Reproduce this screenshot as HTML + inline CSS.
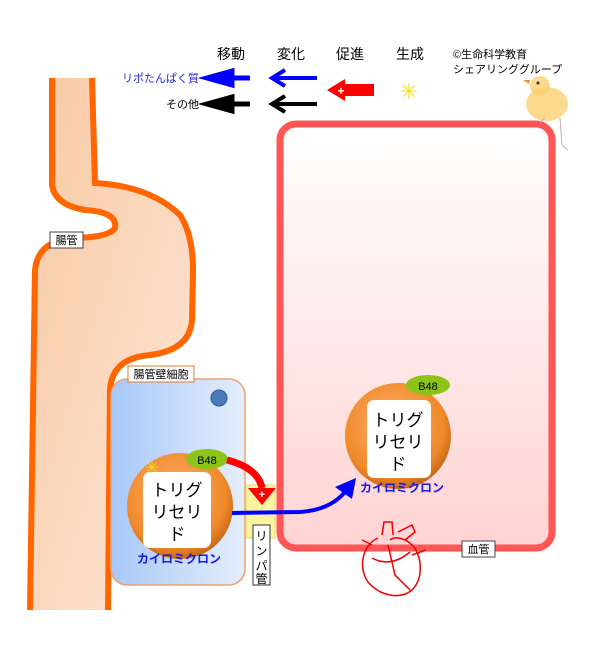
<!DOCTYPE html>
<html><head><meta charset="utf-8"><style>
body{margin:0;width:600px;height:660px;background:#fff;overflow:hidden;font-family:"Liberation Sans","Noto Sans CJK JP",sans-serif}
svg text{font-family:"Liberation Sans","Noto Sans CJK JP",sans-serif}
</style></head><body>
<svg width="600" height="660" viewBox="0 0 600 660">
<defs>
<linearGradient id="gut" x1="0" y1="0" x2="1" y2="1"><stop offset="0" stop-color="#f8c9a4"/><stop offset="1" stop-color="#fde6d6"/></linearGradient>
<linearGradient id="blood" x1="0" y1="0" x2="0" y2="1"><stop offset="0" stop-color="#fff"/><stop offset="1" stop-color="#ffd3d3"/></linearGradient>
<linearGradient id="cell" x1="0" y1="0" x2="1" y2="0"><stop offset="0" stop-color="#a8c8f8"/><stop offset="1" stop-color="#e4eefc"/></linearGradient>
<radialGradient id="ball" cx="0.45" cy="0.4" r="0.6"><stop offset="0" stop-color="#ffb070"/><stop offset="0.8" stop-color="#f08a2a"/><stop offset="1" stop-color="#c86a18"/></radialGradient>
</defs>
<!-- gut -->
<path d="M52,78 L52,185 Q55,205 85,210 Q118,212 115,228 Q110,237 75,238 Q38,240 35,270 L30,610 L108,610 L110,390 Q112,358 150,355 Q190,350 192,320 L193,270 Q193,235 180,215 Q150,186 95,183 L92,78 Z" fill="url(#gut)"/>
<path d="M52,78 L52,185 Q55,205 85,210 Q118,212 115,228 Q110,237 75,238 Q38,240 35,270 L30,610" fill="none" stroke="#ff6600" stroke-width="6"/>
<path d="M92,78 L95,183 Q150,186 180,215 Q193,235 193,270 L192,320 Q190,350 150,355 Q112,358 110,390 L108,610" fill="none" stroke="#ff6600" stroke-width="6"/>
<rect x="50" y="232" width="33" height="16" fill="#fff" stroke="#444"/>
<text x="66.5" y="244" font-size="11" text-anchor="middle">腸管</text>
<!-- blood vessel -->
<rect x="280" y="124" width="272" height="424" rx="16" fill="url(#blood)" stroke="#ff5555" stroke-width="7"/>
<rect x="462" y="541" width="33" height="16" fill="#fff" stroke="#444"/>
<text x="478.5" y="553" font-size="11" text-anchor="middle">血管</text>
<!-- cell -->
<rect x="111" y="379" width="134" height="206" rx="16" fill="url(#cell)" stroke="#f0a070" stroke-width="1.5"/>
<rect x="128" y="366" width="66" height="16" fill="#fff" stroke="#e07830"/>
<text x="161" y="378" font-size="11" text-anchor="middle">腸管壁細胞</text>
<circle cx="219" cy="398" r="8" fill="#4a7ab8" stroke="#2a5a98"/>
<!-- lymph -->
<rect x="246" y="485" width="29" height="53" fill="#fbf3a0" stroke="#e8d870"/>
<rect x="253" y="525" width="17" height="60" fill="#fff" stroke="#333"/>
<text font-size="12" text-anchor="middle"><tspan x="261.5" y="540">リ</tspan><tspan x="261.5" y="555">ン</tspan><tspan x="261.5" y="570">パ</tspan><tspan x="261.5" y="583">管</tspan></text>
<!-- chylomicron 1 -->
<circle cx="180" cy="506" r="53" fill="url(#ball)"/>
<rect x="143" y="472" width="68" height="76" rx="7" fill="#fff"/>
<text font-size="17" text-anchor="middle"><tspan x="177" y="496">トリグ</tspan><tspan x="177" y="518">リセリ</tspan><tspan x="177" y="540">ド</tspan></text>
<text x="179" y="563" font-size="12" fill="#1a1aee" text-anchor="middle" font-weight="bold">カイロミクロン</text>
<ellipse cx="207" cy="459" rx="21" ry="10" fill="#8cc418"/>
<text x="207" y="464" font-size="11" text-anchor="middle">B48</text>
<text x="152" y="473" font-size="16" fill="#f0e020" text-anchor="middle">✳</text>
<!-- chylomicron 2 -->
<circle cx="398" cy="436" r="53" fill="url(#ball)"/>
<rect x="367" y="400" width="64" height="78" rx="7" fill="#fff"/>
<text font-size="17" text-anchor="middle"><tspan x="398" y="426">トリグ</tspan><tspan x="398" y="448">リセリ</tspan><tspan x="398" y="470">ド</tspan></text>
<text x="402" y="492" font-size="12" fill="#1a1aee" text-anchor="middle" font-weight="bold">カイロミクロン</text>
<ellipse cx="428" cy="385" rx="22" ry="10" fill="#8cc418"/>
<text x="428" y="390" font-size="11" text-anchor="middle">B48</text>
<!-- red arrow -->
<path d="M227,460 Q258,468 262,488" fill="none" stroke="#ff0000" stroke-width="7"/>
<path d="M248,488 L276,488 L262,505 Z" fill="#ff0000"/>
<text x="262" y="498" font-size="11" fill="#fff" text-anchor="middle" font-weight="bold">+</text>
<!-- blue arrow -->
<path d="M232,513 L300,512 Q330,510 345,492" fill="none" stroke="#0000ff" stroke-width="4"/>
<path d="M335,487 L356,478 L352,499 Z" fill="#0000ff"/>
<!-- heart -->
<g fill="none" stroke="#e00" stroke-width="1.5">
<path d="M378,538 C362,545 358,568 368,582 C380,596 400,600 412,590 C424,578 422,555 412,545 C405,538 395,536 390,540"/>
<path d="M382,535 L384,522 L392,522 L393,535 M398,532 L412,525 L415,532 L405,540 M372,545 L362,540 M412,555 L426,550"/>
<path d="M388,545 L395,575 L410,590 M372,558 C385,565 398,562 410,552"/>
</g>
<!-- legend -->
<g font-size="14"><text x="231" y="59" text-anchor="middle">移動</text><text x="291" y="59" text-anchor="middle">変化</text><text x="350" y="59" text-anchor="middle">促進</text><text x="410" y="59" text-anchor="middle">生成</text></g>
<text x="453" y="58" font-size="11">©生命科学教育</text>
<text x="453" y="73" font-size="11">シェアリンググループ</text>
<text x="199" y="82" font-size="11" fill="#2222dd" text-anchor="end">リポたんぱく質</text>
<text x="199" y="108" font-size="11" text-anchor="end">その他</text>
<path d="M250,78 L225,78 M232,71 L207,78 L232,85 Z" stroke="#0000ff" stroke-width="5" fill="#0000ff"/>
<path d="M250,104 L225,104 M232,97 L207,104 L232,111 Z" stroke="#000" stroke-width="5" fill="#000"/>
<path d="M317,78 L272,78 M285,70 L272,78 L285,86" stroke="#0000ff" stroke-width="4" fill="none"/>
<path d="M317,104 L272,104 M285,96 L272,104 L285,112" stroke="#000" stroke-width="4" fill="none"/>
<path d="M374,84 L345,84 L345,79 L327,90 L345,101 L345,96 L374,96 Z" fill="#ff0000"/>
<text x="341" y="95" font-size="12" fill="#fff" text-anchor="middle" font-weight="bold">+</text>
<text x="409" y="99" font-size="22" fill="#f0e020" text-anchor="middle">✳</text>
<!-- chick -->
<ellipse cx="547" cy="104" rx="21" ry="17" fill="#fad070" opacity="0.8"/>
<circle cx="540" cy="86" r="10" fill="#fad070" opacity="0.8"/>
<path d="M529,84 L523,80 L530,80" fill="#f09030"/>
<circle cx="538" cy="83" r="1.5" fill="#333"/>
<path d="M560,118 L562,145 L568,150 M545,118 L540,122" stroke="#caa" fill="none"/>
</svg>
</body></html>
